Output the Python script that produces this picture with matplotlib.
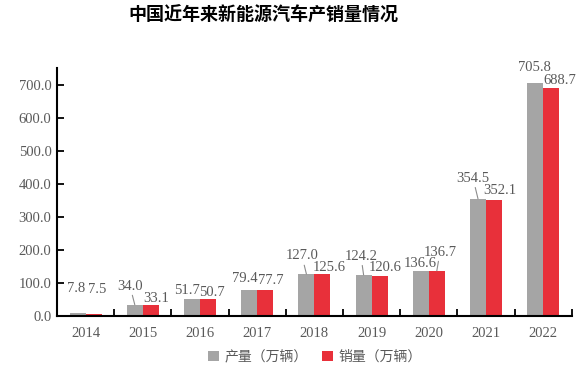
import matplotlib.pyplot as plt
import numpy as np

# 数据
years = ['2014', '2015', '2016', '2017', '2018', '2019', '2020', '2021', '2022']
produccion = [7.8, 34.0, 51.7, 79.4, 127.0, 124.2, 136.6, 354.5, 705.8]
ventas = [7.5, 33.1, 50.7, 77.7, 125.6, 120.6, 136.7, 352.1, 688.7]

# 标签偏移 (points) 和是否画引线
off_prod = [(-1, 18), (-3.5, 13.5), (-3.6, 5.7), (-2.9, 8.4), (-3.2, 13),
            (-1.9, 13.5), (-0.6, 5.5), (-3.6, 14.8), (-0.7, 10.9)]
off_vent = [(2.4, 17.6), (3.7, 5), (2.9, 5.2), (4.3, 6.7), (4.8, 5.3),
            (3.9, 6.5), (2.3, 13.5), (4.3, 6.7), (6.5, 5.6)]
linea_prod = [False, True, False, False, True, True, False, True, False]
linea_vent = [False, False, False, False, False, False, True, False, False]

gris = '#A5A5A5'
rojo = '#E8303A'
texto = '#595959'
serif = 'Liberation Serif'
cjk = ['Noto Sans CJK SC', 'DejaVu Sans']

fig = plt.figure(figsize=(5.83, 3.68), dpi=100)
ax = fig.add_axes([0.0978, 0.1413, 0.883, 0.674])

x = np.arange(len(years))
w = 0.28
b1 = ax.bar(x - w / 2, produccion, w, color=gris, label='产量（万辆）')
b2 = ax.bar(x + w / 2, ventas, w, color=rojo, label='销量（万辆）')

def etiquetas(xs, vals, offs, lineas):
    for xi, v, (dx, dy), ln in zip(xs, vals, offs, lineas):
        props = dict(arrowstyle='-', color='#8C8C8C', lw=0.8,
                     shrinkA=0, shrinkB=0) if ln else None
        ax.annotate(f'{v:.1f}', xy=(xi, v), xytext=(dx, dy),
                    textcoords='offset points', ha='center', va='center',
                    fontsize=10.5, family=serif, color=texto,
                    arrowprops=props)

etiquetas(x - w / 2, produccion, off_prod, linea_prod)
etiquetas(x + w / 2, ventas, off_vent, linea_vent)

ax.set_xlim(-0.5, len(years) - 0.5)
ax.set_ylim(0, 750)
ax.set_yticks(np.arange(0, 701, 100))
ax.set_yticklabels([f'{t:.1f}' for t in np.arange(0, 701, 100)],
                   family=serif, fontsize=10.5, color=texto)
ax.set_xticks(x)
ax.set_xticklabels(years, family=serif, fontsize=10.5, color=texto)
ax.set_xticks(np.arange(0.5, len(years) - 0.4, 1), minor=True)
ax.tick_params(axis='x', which='major', length=0, pad=8)
ax.tick_params(axis='x', which='minor', direction='in', length=5, width=1.3)
ax.tick_params(axis='y', direction='in', length=5, width=1.3, pad=4)

for s in ['top', 'right']:
    ax.spines[s].set_visible(False)
for s in ['left', 'bottom']:
    ax.spines[s].set_linewidth(1.5)
    ax.spines[s].set_color('black')

fig.text(0.451, 0.958, '中国近年来新能源汽车产销量情况', ha='center', va='center',
         fontsize=13, fontweight='bold', family=cjk)

leg = fig.legend(handles=[b1, b2], loc='center', bbox_to_anchor=(0.54, 0.03),
                 ncol=2, frameon=False, prop={'family': cjk, 'size': 10},
                 handlelength=0.8, handleheight=0.8, handletextpad=0.4,
                 columnspacing=1.0, labelcolor=texto)

fig.savefig('out.png', dpi=100)
